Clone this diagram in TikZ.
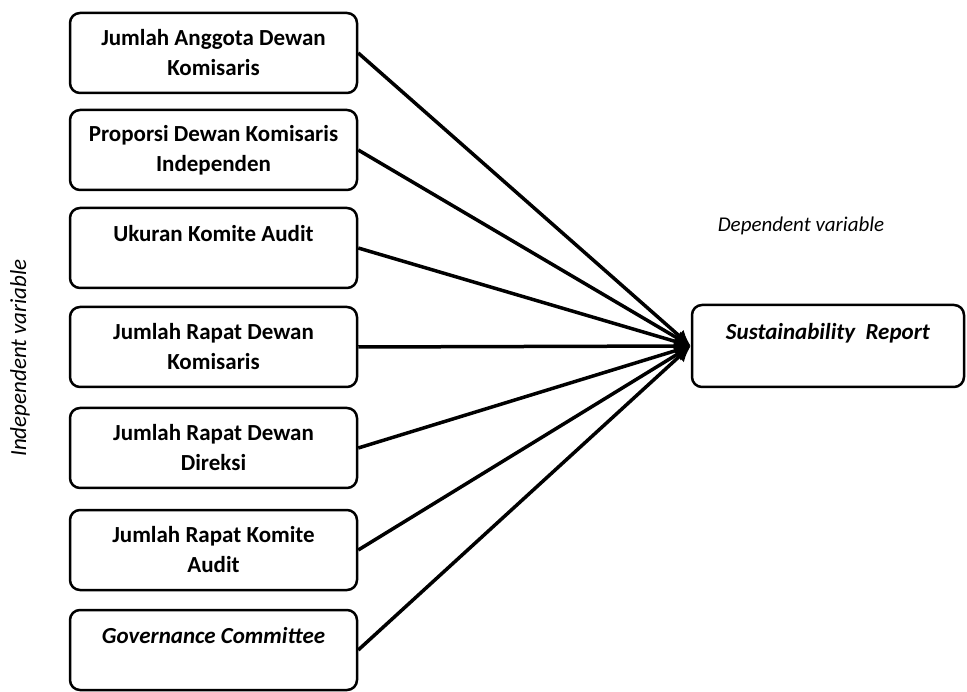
\documentclass[tikz,border=0pt]{standalone}
\usepackage{fontspec}
\setmainfont{Carlito}
\usetikzlibrary{arrows.meta}

\tikzset{
    var/.style={draw, line width=2.5pt, rounded corners=10pt, minimum width=287pt,
        minimum height=80pt, align=center, inner sep=0pt,
        font=\fontsize{23}{30}\selectfont\bfseries},
    link/.style={line width=3.5pt, -{Latex[length=16pt,width=15pt]}},
    note/.style={font=\fontsize{21}{24}\selectfont\itshape}
}

\begin{document}
\begin{tikzpicture}[x=1pt,y=-1pt]
    \useasboundingbox (0,0) rectangle (967,692);

    % Independent variables
    \node[var] (jadk) at (213.5,53) {Jumlah Anggota Dewan\\Komisaris};
    \node[var] (pdki) at (213.5,150) {Proporsi Dewan Komisaris\\Independen};
    \node[var] (uka) at (213.5,248) {Ukuran Komite Audit\\\mbox{}};
    \node[var] (jrdk) at (213.5,347) {Jumlah Rapat Dewan\\Komisaris};
    \node[var] (jrdd) at (213.5,448) {Jumlah Rapat Dewan\\Direksi};
    \node[var] (jrka) at (213.5,550) {Jumlah Rapat Komite\\Audit};
    \node[var] (gc) at (213.5,650) {\textit{Governance Committee}\\\mbox{}};

    % Dependent variable
    \node[var, minimum width=272pt, minimum height=82pt] (sr) at (828,346)
        {\textit{Sustainability\ \ Report}\\\mbox{}};

    % Labels
    \node[note] (dep) at (801,226) {Dependent variable};
    \node[note, font=\fontsize{23}{26}\selectfont\itshape, rotate=90] (indep) at (20,358)
        {Independent variable};

    % Arrows
    \foreach \v in {jadk,pdki,uka,jrdk,jrdd,jrka,gc}
        \draw[link] (\v.east) -- (sr.west);
\end{tikzpicture}
\end{document}
